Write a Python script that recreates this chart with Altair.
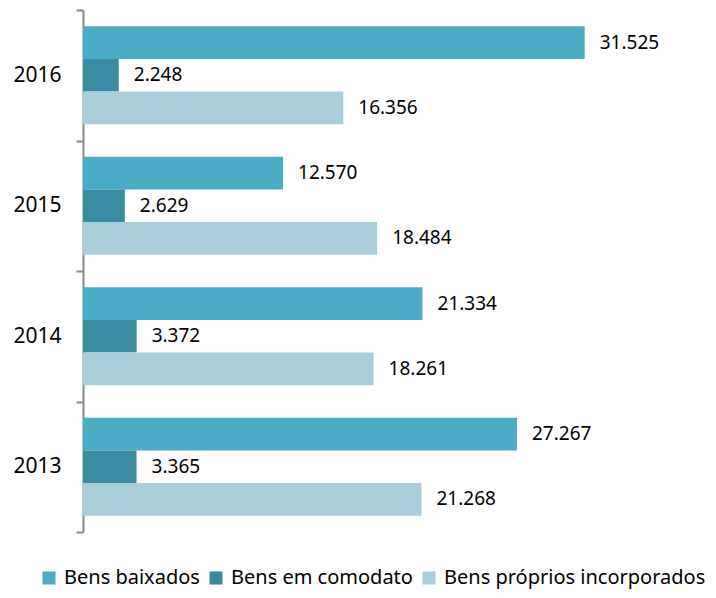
import altair as alt
import pandas as pd

years = ["2016", "2015", "2014", "2013"]
series = ["Bens baixados", "Bens em comodato", "Bens próprios incorporados"]
baixados = [31525, 12570, 21334, 27267]
comodato = [2248, 2629, 3372, 3365]
proprios = [16356, 18484, 18261, 21268]
colors = ["#4BACC6", "#3B8CA3", "#A8CEDB"]

rows = []
for i, y in enumerate(years):
    for s, vals in zip(series, [baixados, comodato, proprios]):
        v = vals[i]
        rows.append({"ano": y, "serie": s, "valor": v,
                     "rotulo": f"{v:,}".replace(",", ".")})
df = pd.DataFrame(rows)

FONT = "Noto Sans"

y_enc = alt.Y("ano:N", sort=years, title=None,
              scale=alt.Scale(paddingInner=0, paddingOuter=0),
              axis=alt.Axis(tickBand="extent", labelFontSize=21, labelFont=FONT,
                            labelColor="#000000", labelPadding=15,
                            domainColor="#888888", domainWidth=2,
                            tickColor="#888888", tickWidth=2, tickSize=7))
yoff = alt.YOffset("serie:N", sort=series,
                   scale=alt.Scale(paddingInner=0, paddingOuter=0.5))
x_enc = alt.X("valor:Q", axis=None, scale=alt.Scale(domain=[0, 35000]))

bars = alt.Chart(df).mark_bar().encode(
    x=x_enc, y=y_enc, yOffset=yoff,
    color=alt.Color("serie:N", sort=series,
                    scale=alt.Scale(domain=series, range=colors),
                    legend=alt.Legend(title=None, orient="none", direction="horizontal",
                                      legendX=-44, legendY=558,
                                      symbolType="square", symbolSize=170,
                                      symbolStrokeWidth=0,
                                      labelFontSize=20, labelFont=FONT,
                                      labelColor="#000000", labelOffset=5,
                                      labelLimit=0, columnPadding=6)),
)

labels = alt.Chart(df).mark_text(align="left", baseline="middle", dx=15,
                                 fontSize=19, font=FONT, color="#000000").encode(
    x=x_enc, y=alt.Y("ano:N", sort=years), yOffset=yoff, text="rotulo:N"
)

chart = (bars + labels).properties(
    width=557, height=522,
    autosize=alt.AutoSizeParams(type="none"),
    padding={"left": 75, "top": 2, "right": 68, "bottom": 58},
).configure_view(stroke=None)

chart.save("out.html", embed_options={"renderer": "svg", "actions": False})
